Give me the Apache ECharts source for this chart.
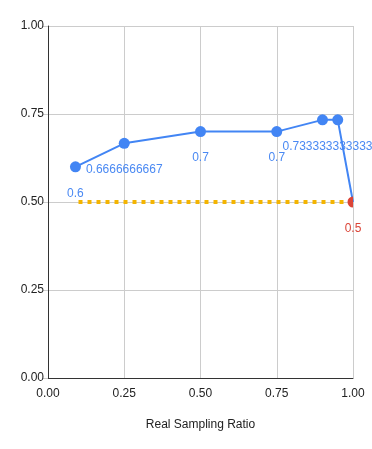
<!DOCTYPE html>
<html><head><meta charset="utf-8">
<script src="https://cdn.jsdelivr.net/npm/echarts@6/dist/echarts.min.js"></script>
<style>html,body{margin:0;padding:0;background:#fff}#c{width:372px;height:449px}</style>
</head><body><div id="c"></div>
<script>
const ratioX = [0.09, 0.25, 0.5, 0.75, 0.9, 0.95, 1.0];
const scoreY = [0.6, 0.6666666667, 0.7, 0.7, 0.733333333333, 0.733333333333, 0.5];
const baselineX = [0.1, 1.0];
const baselineY = [0.5, 0.5];
const markX = [1.0];
const markY = [0.5];
const yTicks = ['0.00', '0.25', '0.50', '0.75', '1.00'];
const xTitle = 'Real Sampling Ratio';

const FONT = 'Liberation Sans, Arial, sans-serif';
const BLUE = '#4285F4', ORANGE = '#F4B400', RED = '#DB4437';

const blueData = ratioX.map((x, i) => {
  const d = { value: [x, scoreY[i]] };
  if (i >= 5) d.label = { show: false };
  if (i === 6) d.symbol = 'none';
  if (i === 4) d.label = { offset: [5, 0] };
  return d;
});

const chart = echarts.init(document.getElementById('c'));
chart.setOption({
  animation: false,
  grid: { left: 48, right: 19, top: 26, bottom: 71 },
  xAxis: {
    type: 'value', min: 0, max: 1, interval: 0.25,
    name: xTitle, nameLocation: 'middle', nameGap: 41,
    nameTextStyle: { color: '#222', fontSize: 12, fontFamily: FONT },
    axisLine: { show: true, lineStyle: { color: '#333', width: 1 } },
    axisTick: { show: false },
    axisLabel: { color: '#222', fontSize: 12, fontFamily: FONT, margin: 10,
      formatter: v => v.toFixed(2) },
    splitLine: { show: true, lineStyle: { color: '#cccccc' } }
  },
  yAxis: {
    type: 'value', min: 0, max: 1, interval: 0.25,
    axisLine: { show: true, lineStyle: { color: '#333', width: 1 } },
    axisTick: { show: true, length: 5, lineStyle: { color: '#cccccc' } },
    axisLabel: { color: '#222', fontSize: 12, fontFamily: FONT, margin: 4,
      formatter: (v, i) => yTicks[i] },
    splitLine: { show: true, lineStyle: { color: '#cccccc' } }
  },
  series: [
    {
      type: 'line', data: baselineX.map((x, i) => [x, baselineY[i]]),
      symbol: 'none', z: 2,
      lineStyle: { color: ORANGE, width: 4, type: [4, 5], cap: 'butt' }
    },
    {
      type: 'line', data: blueData, z: 3,
      symbol: 'circle', symbolSize: 11,
      itemStyle: { color: BLUE },
      lineStyle: { color: BLUE, width: 2 },
      label: { show: true, position: 'bottom', distance: 15,
        color: '#4a89f3', fontSize: 12, fontFamily: FONT,
        formatter: p => String(p.value[1]) }
    },
    {
      type: 'custom', z: 4,
      data: markX.map((x, i) => [x, markY[i]]),
      renderItem: (params, api) => {
        const pt = api.coord([api.value(0), api.value(1)]);
        return {
          type: 'group',
          children: [
            { type: 'sector',
              shape: { cx: pt[0], cy: pt[1], r: 5.5, r0: 0,
                startAngle: Math.PI / 2, endAngle: Math.PI * 3 / 2, clockwise: true },
              style: { fill: RED } },
            { type: 'text', x: pt[0], y: pt[1] + 21,
              style: { text: String(api.value(1)), fill: RED, fontSize: 12,
                fontFamily: FONT, align: 'center', verticalAlign: 'top' } }
          ]
        };
      }
    }
  ]
});
</script></body></html>
